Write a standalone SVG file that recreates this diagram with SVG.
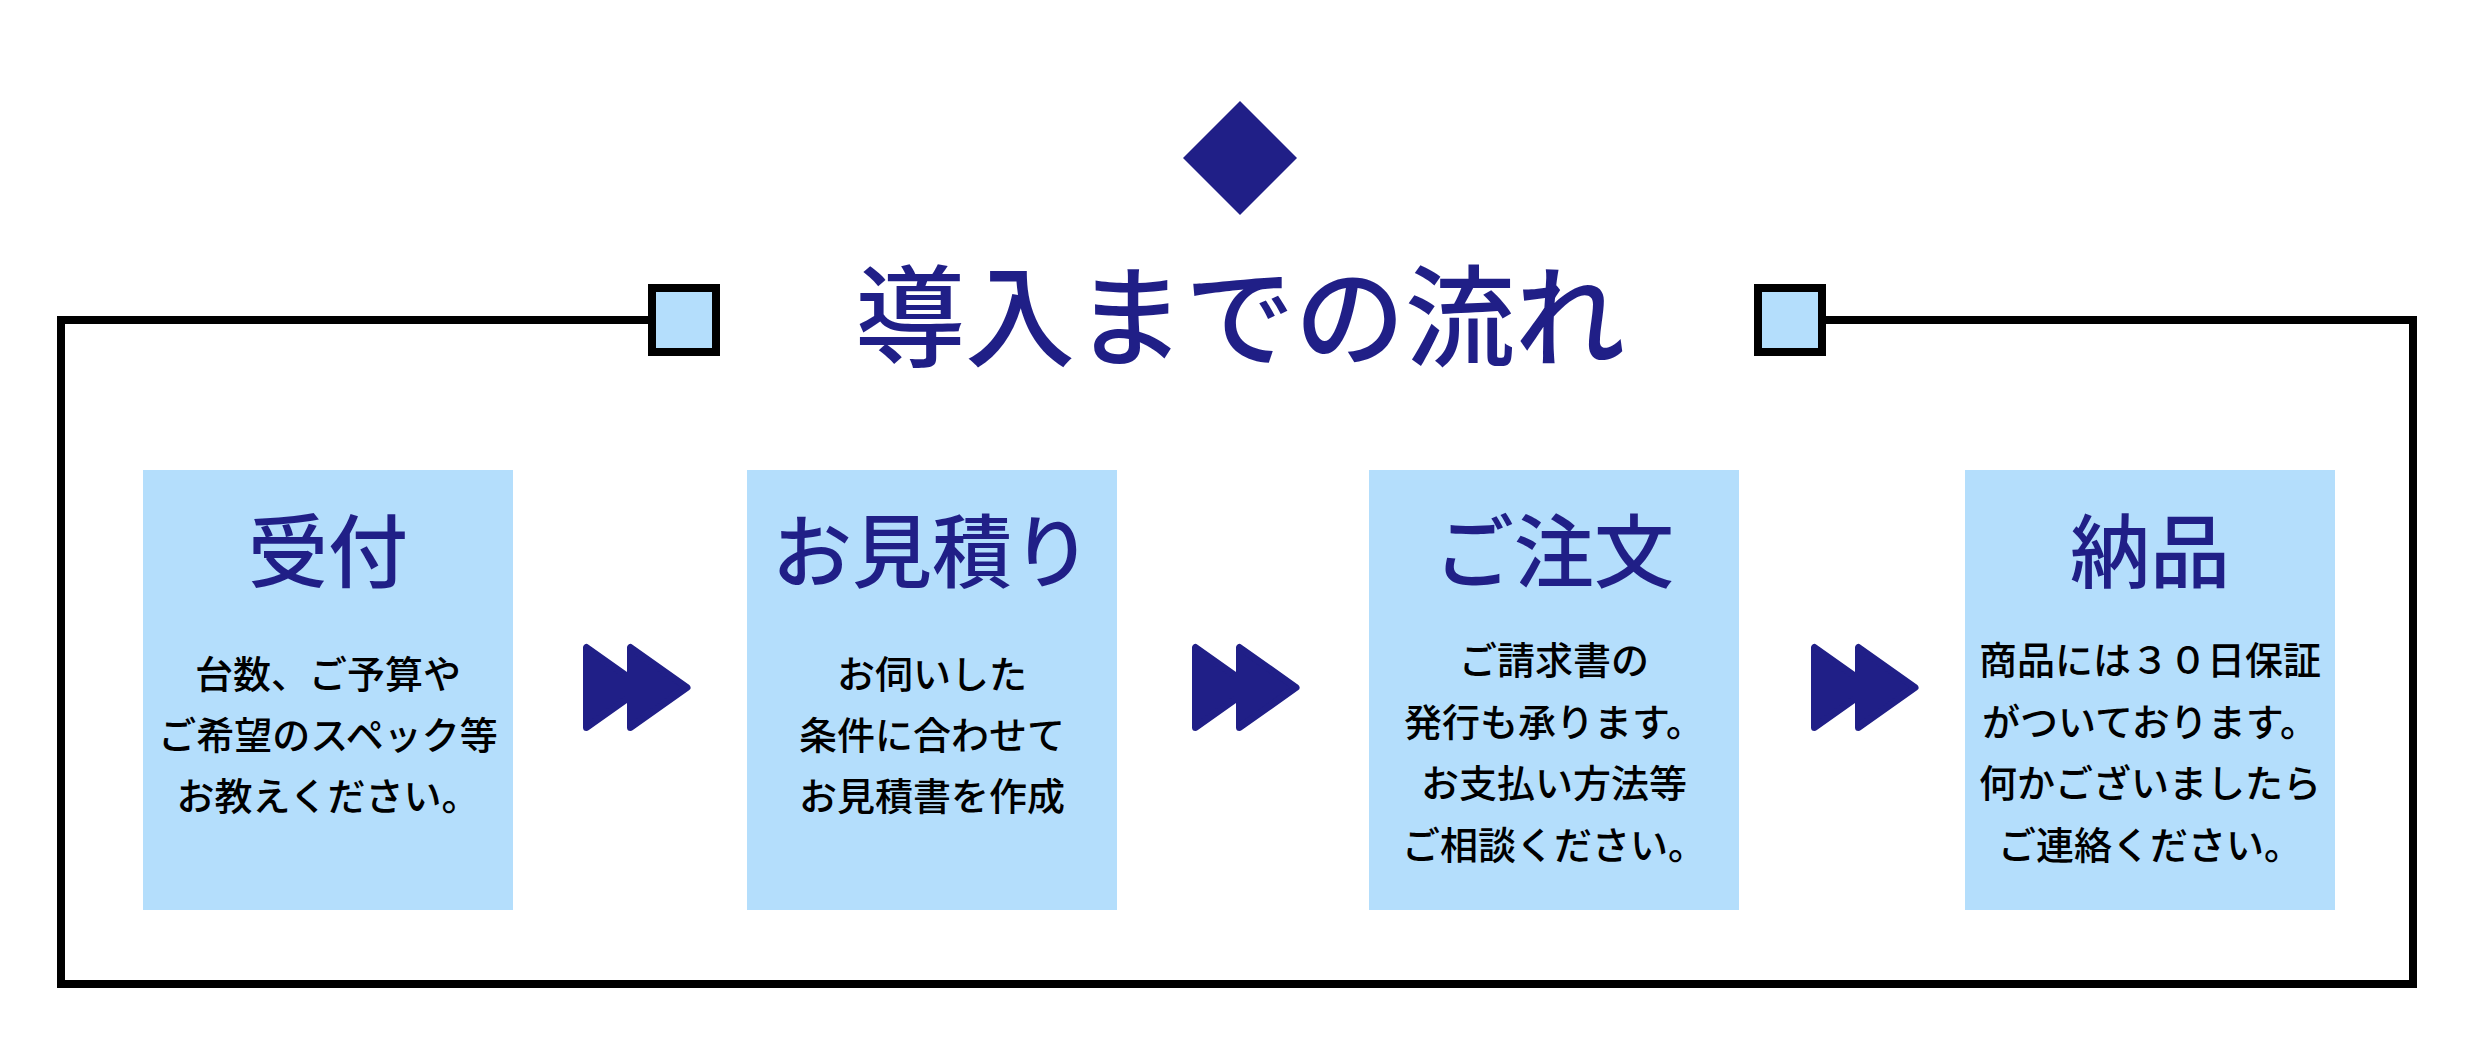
<svg xmlns="http://www.w3.org/2000/svg" width="2480" height="1040" viewBox="0 0 2480 1040">
<style>
.frame{fill:none;stroke:#000;stroke-width:8;stroke-linejoin:miter}
.sq{fill:#B4DEFC;stroke:#000;stroke-width:8}
.box{fill:#B4DEFC}
.navy{fill:#201F87}
.arrow{fill:#201F87;stroke:#201F87;stroke-width:7;stroke-linejoin:round}
.title{font-family:"Noto Sans CJK JP","Noto Sans",sans-serif;font-size:110px;font-weight:500;fill:#201F87;text-anchor:middle}
.head{font-family:"Noto Sans CJK JP","Noto Sans",sans-serif;font-size:80px;font-weight:500;fill:#201F87;text-anchor:middle}
.body{font-family:"Noto Sans CJK JP","Noto Sans",sans-serif;font-size:38px;font-weight:500;fill:#000;text-anchor:middle}
</style>
<defs>
<g id="ff">
<polygon points="586.5,647.5 586.5,727.5 643,687.5"/>
<polygon points="630.5,647.5 630.5,727.5 687,687.5"/>
</g>
</defs>
<rect width="2480" height="1040" fill="#fff"/>
<g id="header">
<polygon class="navy" points="1240,101 1297,158 1240,215 1183,158"/>
<text class="title" x="1240" y="358">導入までの流れ</text>
<rect class="sq" x="652" y="288" width="64" height="64"/>
<rect class="sq" x="1758" y="288" width="64" height="64"/>
</g>
<g id="connectors">
<path class="frame" d="M648 320 H61 V984 H2413 V320 H1826"/>
<use href="#ff" class="arrow"/>
<use href="#ff" class="arrow" transform="translate(609,0)"/>
<use href="#ff" class="arrow" transform="translate(1228,0)"/>
</g>
<g id="step1">
<rect class="box" x="143" y="470" width="370" height="440"/>
<text class="head" x="328" y="581">受付</text>
<text class="body" x="328" y="688">台数、ご予算や</text>
<text class="body" x="328" y="749">ご希望のスペック等</text>
<text class="body" x="328" y="810">お教えください。</text>
</g>
<g id="step2">
<rect class="box" x="747" y="470" width="370" height="440"/>
<text class="head" x="932" y="581">お見積り</text>
<text class="body" x="932" y="688">お伺いした</text>
<text class="body" x="932" y="749">条件に合わせて</text>
<text class="body" x="932" y="810">お見積書を作成</text>
</g>
<g id="step3">
<rect class="box" x="1369" y="470" width="370" height="440"/>
<text class="head" x="1554" y="581">ご注文</text>
<text class="body" x="1554" y="674">ご請求書の</text>
<text class="body" x="1554" y="736">発行も承ります。</text>
<text class="body" x="1554" y="797">お支払い方法等</text>
<text class="body" x="1554" y="859">ご相談ください。</text>
</g>
<g id="step4">
<rect class="box" x="1965" y="470" width="370" height="440"/>
<text class="head" x="2150" y="581">納品</text>
<text class="body" x="2150" y="674">商品には３０日保証</text>
<text class="body" x="2150" y="736">がついております。</text>
<text class="body" x="2150" y="797">何かございましたら</text>
<text class="body" x="2150" y="859">ご連絡ください。</text>
</g>
</svg>
